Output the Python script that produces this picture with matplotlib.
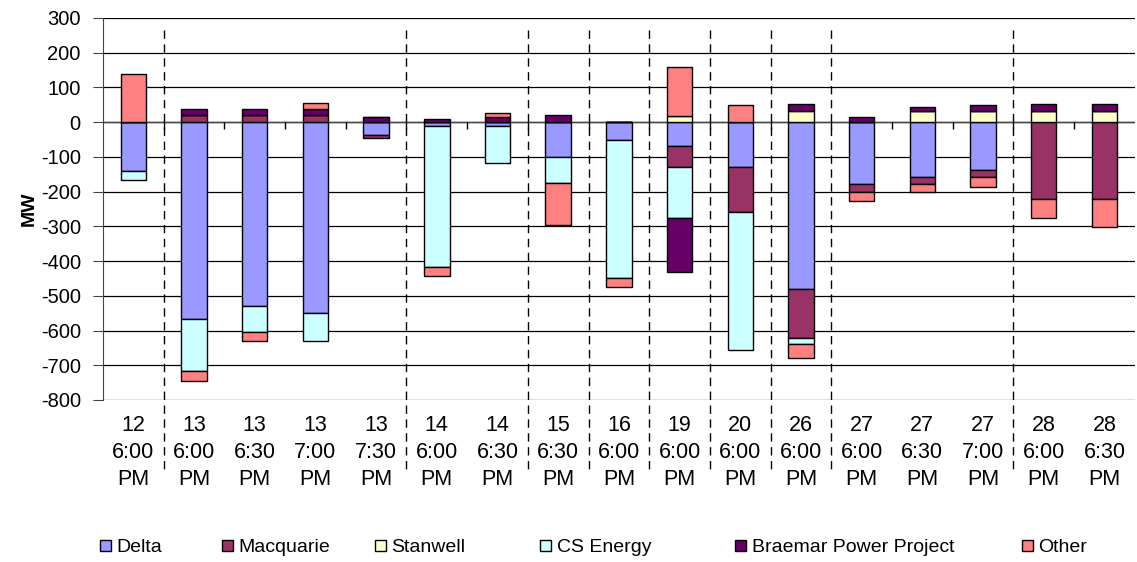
import numpy as np
import matplotlib.pyplot as plt

plt.rcParams['font.family'] = ['Liberation Sans', 'DejaVu Sans']
plt.rcParams['axes.unicode_minus'] = False

# categories (day, time)
days = ['12', '13', '13', '13', '13', '14', '14', '15', '16', '19', '20', '26', '27', '27', '27', '28', '28']
times = ['6:00', '6:00', '6:30', '7:00', '7:30', '6:00', '6:30', '6:30', '6:00', '6:00', '6:00', '6:00',
         '6:00', '6:30', '7:00', '6:00', '6:30']

# MW change per participant
delta = [-140, -568, -528, -549, -37, -10, -10, -99, -51, -70, -129, -480, -177, -158, -139, 0, 0]
macquarie = [0, 20, 20, 20, -8, 0, 0, 0, 0, -59, -131, -141, -24, -20, -20, -220, -221]
stanwell = [0, 0, 0, 0, 0, 0, 0, 0, 0, 17, 0, 32, 0, 32, 32, 32, 32]
cs_energy = [-26, -149, -76, -82, 0, -408, -109, -76, -398, -147, -397, -19, 0, 0, 0, 0, 0]
braemar = [0, 18, 18, 18, 16, 10, 14, 20, 0, -156, 0, 20, 14, 13, 17, 20, 20]
other = [140, -27, -27, 16, 0, -24, 12, -121, -26, 143, 49, -40, -26, -23, -29, -56, -81]

series = [('Delta', delta, '#9999FF'),
          ('Macquarie', macquarie, '#993366'),
          ('Stanwell', stanwell, '#FFFFCC'),
          ('CS Energy', cs_energy, '#CCFFFF'),
          ('Braemar Power Project', braemar, '#660066'),
          ('Other', other, '#FF8080')]

labels = [d + '\n' + t + '\nPM' for d, t in zip(days, times)]
x = np.arange(len(days))

fig = plt.figure(figsize=(11.37, 5.62), dpi=100)
ax = fig.add_axes([0.0906, 0.2883, 0.9074, 0.6797])

pos_bottom = np.zeros(len(x))
neg_bottom = np.zeros(len(x))
bars = []
for name, vals, col in series:
    v = np.array(vals, dtype=float)
    b = np.where(v >= 0, pos_bottom, neg_bottom)
    bars.append(ax.bar(x, v, 0.42, bottom=b, color=col, edgecolor='black', linewidth=1, label=name, zorder=3))
    pos_bottom += np.where(v > 0, v, 0)
    neg_bottom += np.where(v < 0, v, 0)

ax.set_xlim(-0.5, len(x) - 0.5)
ax.set_ylim(-800, 300)
ax.set_yticks(range(-800, 301, 100))
ax.yaxis.grid(True, color='black', linewidth=0.9)
ax.set_axisbelow(True)
for s in ['top', 'right', 'bottom']:
    ax.spines[s].set_visible(False)
ax.spines['left'].set_color('#444444')
ax.tick_params(axis='y', length=7, labelsize=14.5, color='#444444', pad=9)
ax.set_xticks(x)
ax.set_xticklabels(labels, fontsize=15.5, linespacing=1.36)
ax.tick_params(axis='x', length=0, pad=11)
ax.set_ylabel('MW', fontsize=14, fontweight='bold', labelpad=2)

# zero line with small ticks at category boundaries
ax.axhline(0, color='#444444', linewidth=1, zorder=2)
ax.vlines(x[:-1] + 0.5, -20, 0, color='black', linewidth=1, zorder=2)

# dashed separators where the day changes
for i in range(1, len(days)):
    if days[i] != days[i - 1]:
        ax.plot([i - 0.5, i - 0.5], [265, -1010], color='black', linestyle=(0, (6, 4)),
                linewidth=1, clip_on=False, zorder=4)

# legend entries placed like the original
leg_x = [100, 222, 375, 540, 735, 1022]
for (name, vals, col), b, lx in zip(series, bars, leg_x):
    fig.legend([b], [name], loc='center left', bbox_to_anchor=(lx / 1137, 1 - 548 / 562),
               frameon=False, fontsize=14, handlelength=0.55, handleheight=0.55,
               handletextpad=0.3, borderaxespad=0, borderpad=0)

fig.savefig('out.png', dpi=100)
